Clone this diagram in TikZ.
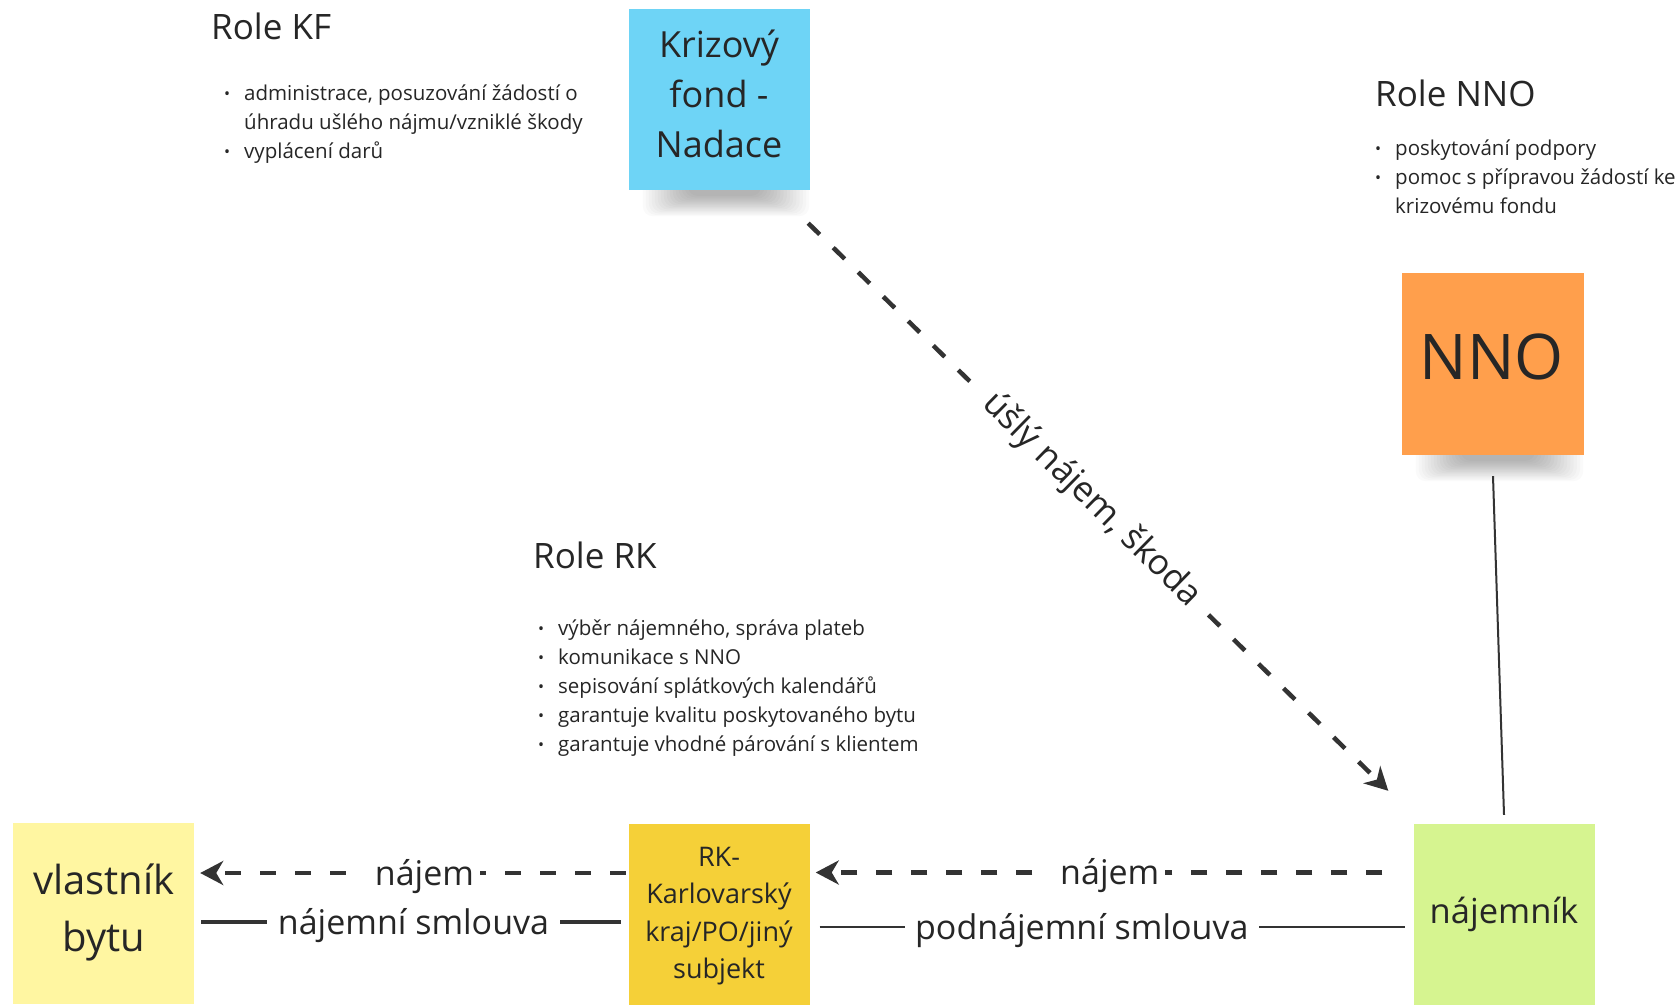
\documentclass[tikz,border=0pt]{standalone}
\usepackage{fontspec}
\setmainfont{Open Sans}
\usetikzlibrary{arrows.meta,backgrounds}
\definecolor{txt}{HTML}{262626}
\definecolor{linec}{HTML}{333333}
\definecolor{kfc}{HTML}{6ED4F6}
\definecolor{nnoc}{HTML}{FF9F4C}
\definecolor{vlc}{HTML}{FFF6A1}
\definecolor{rkc}{HTML}{F5D038}
\definecolor{najc}{HTML}{D6F490}
\newcommand\bu{\makebox[20pt][l]{\fontsize{16}{16}\selectfont\raisebox{1pt}{•}}}
\newcommand\stickyshadow[1]{%
  \foreach \i in {0,...,15}{%
    \fill[black, opacity=0.02, rounded corners=10pt]
      ([shift={(14+3*\i,-10)}]#1.south west) rectangle ([shift={(-1-3.2*\i,26-1.35*\i)}]#1.south east);
  }}
\begin{document}
\begin{tikzpicture}[x=1pt,y=-1pt,
  every node/.style={text=txt},
  sticky/.style={minimum width=181pt, minimum height=181pt, inner sep=0pt, draw=none},
  stext/.style={align=center, inner sep=0pt},
  heading/.style={anchor=base west, inner sep=0pt, font=\fontsize{35}{40}\selectfont},
  blist/.style={anchor=base west, inner sep=0pt, font=\fontsize{20.5}{29}\selectfont},
  dasharrow/.style={draw=linec, line width=4.5pt, dash pattern=on 16pt off 19pt,
    -{Stealth[length=23pt,width=24pt,inset=7pt]}},
  solidln/.style={draw=linec},
  hlabel/.style={fill=white, inner xsep=6pt, inner ysep=2pt, yshift=-3.5pt, font=\fontsize{34}{40}\selectfont},
  slabel/.style={fill=white, inner ysep=2pt, yshift=-4pt, font=\fontsize{34}{40}\selectfont},
  dlabel/.style={fill=white, inner xsep=10pt, inner ysep=2pt, font=\fontsize{35}{40}\selectfont}]
\useasboundingbox (0,0) rectangle (1678,1004);

% sticky notes
\node[sticky, fill=kfc] (kf) at (719.5,99.5) {};
\node[stext, font=\fontsize{36}{50}\selectfont] (kft) at (719,94) {Krizový\\fond -\\Nadace};
\node[sticky, fill=nnoc, minimum width=182pt, minimum height=182pt] (nno) at (1493,364) {};
\node[stext, font=\fontsize{63}{63}\selectfont] (nnot) at (1492,357) {NNO};
\node[sticky, fill=vlc] (vl) at (103.5,913) {};
\node[stext, font=\fontsize{40}{57}\selectfont] (vlt) at (104,912) {vlastník\\bytu};
\node[sticky, fill=rkc] (rk) at (719,914.5) {};
\node[stext, font=\fontsize{27}{37.5}\selectfont] (rkt) at (719,916) {RK-\\Karlovarský\\kraj/PO/jiný\\subjekt};
\node[sticky, fill=najc] (naj) at (1504,914.5) {};
\node[stext, font=\fontsize{34.5}{40}\selectfont] (najt) at (1504,914) {nájemník};

% headings and lists
\node[heading] (hkf) at (211,39) {Role KF};
\node[blist] (lkf) at (224,100) {\begin{tabular}[t]{@{}l@{}l@{}}
\bu & administrace, posuzování žádostí o\\
 & úhradu ušlého nájmu/vzniklé škody\\
\bu & vyplácení darů
\end{tabular}};
\node[heading] (hnno) at (1375,106) {Role NNO};
\node[blist] (lnno) at (1375,155) {\begin{tabular}[t]{@{}l@{}l@{}}
\bu & poskytování podpory\\
\bu & pomoc s přípravou žádostí ke\\
 & krizovému fondu
\end{tabular}};
\node[heading] (hrk) at (533,568) {Role RK};
\node[blist] (lrk) at (538,635) {\begin{tabular}[t]{@{}l@{}l@{}}
\bu & výběr nájemného, správa plateb\\
\bu & komunikace s NNO\\
\bu & sepisování splátkových kalendářů\\
\bu & garantuje kvalitu poskytovaného bytu\\
\bu & garantuje vhodné párování s klientem
\end{tabular}};

% connectors
\coordinate (kfo) at ([shift={(-2,33)}]kf.south east);
\coordinate (naji) at ([shift={(-25,-33)}]naj.north west);
\draw[dasharrow] (kfo) -- node[pos=0.488, sloped, dlabel] (ldiag) {úšlý nájem, škoda} (naji);

\draw[dasharrow] ([shift={(-31,-42)}]naj.west) --
  node[pos=0.4903, hlabel] (lnaj1) {\hspace*{10.5pt}nájem\hspace{7pt}} ([shift={(6,-42)}]rk.east);
\draw[dasharrow] ([shift={(-2.5,-41.5)}]rk.west) --
  node[pos=0.4859, hlabel] (lnaj2) {\hspace*{11pt}nájem\hspace{6pt}} ([shift={(6,-40)}]vl.east);

\draw[solidln, line width=4pt] ([shift={(7,9)}]vl.east) --
  node[pos=0.506, slabel, inner xsep=11pt] (lns) {nájemní smlouva} ([shift={(-7.5,7.5)}]rk.west);
\draw[solidln, line width=2.2pt] ([shift={(10,12.5)}]rk.east) --
  node[pos=0.448, slabel, inner xsep=10pt] (lpns) {podnájemní smlouva} ([shift={(-8.5,12.5)}]naj.west);
\draw[solidln, line width=2pt] ([shift={(0,21)}]nno.south) -- ([shift={(0,-9)}]naj.north);

\begin{scope}[on background layer]
  \fill[white] (0,0) rectangle (1678,1004);
  \stickyshadow{kf}
  \stickyshadow{nno}
\end{scope}
\end{tikzpicture}
\end{document}
